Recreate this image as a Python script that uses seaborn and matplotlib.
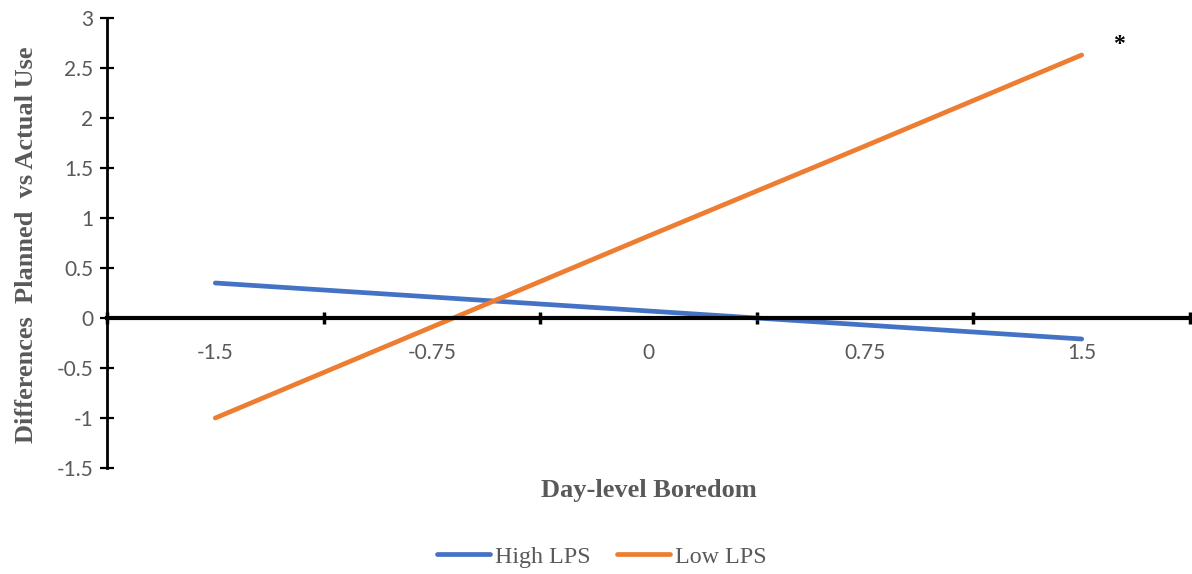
import matplotlib
matplotlib.use("Agg")
import matplotlib.pyplot as plt
import seaborn as sns
import pandas as pd
from matplotlib.ticker import FuncFormatter

# Simple slopes: day-level boredom by LPS group
boredom_levels = ["-1.5", "-0.75", "0", "0.75", "1.5"]
high_lps = [0.35, 0.21, 0.07, -0.07, -0.21]
low_lps = [-1.00, -0.09, 0.82, 1.72, 2.63]
series_names = ["High LPS", "Low LPS"]
colors = ["#4472C4", "#ED7D31"]

sns.set_theme(style="white")
plt.rcParams["axes.unicode_minus"] = False

positions = list(range(len(boredom_levels)))
df = pd.DataFrame({
    "pos": positions * 2,
    "value": high_lps + low_lps,
    "group": [series_names[0]] * len(high_lps) + [series_names[1]] * len(low_lps),
})

fig = plt.figure(figsize=(11.92, 5.74), dpi=100)
ax = fig.add_axes([107 / 1192, 1 - 468 / 574, 1083 / 1192, 450 / 574])

sns.lineplot(data=df, x="pos", y="value", hue="group", palette=colors,
             linewidth=3.4, ax=ax, legend=False, solid_capstyle="round")

ax.set_xlim(-0.5, len(boredom_levels) - 0.5)
ax.set_ylim(-1.5, 3)

tick_gray = "#595959"
sans = ["Lato", "DejaVu Sans"]
serif = ["Liberation Serif", "DejaVu Serif"]

# Spines: left axis plus a horizontal axis through zero
for side in ["top", "right"]:
    ax.spines[side].set_visible(False)
ax.spines["left"].set_color("black")
ax.spines["left"].set_linewidth(2)
ax.spines["bottom"].set_position(("data", 0))
ax.spines["bottom"].set_color("black")
ax.spines["bottom"].set_linewidth(3)

# y ticks
yticks = [-1.5, -1, -0.5, 0, 0.5, 1, 1.5, 2, 2.5, 3]
ax.set_yticks(yticks)
ax.yaxis.set_major_formatter(FuncFormatter(lambda v, p: f"{v:g}"))
ax.tick_params(axis="y", direction="inout", length=10, width=1.6, color="black",
               labelsize=15, labelcolor=tick_gray, pad=5, left=True)
for lab in ax.get_yticklabels():
    lab.set_family(sans)

# x ticks: boundary marks on the zero line, labels at category centres
bounds = [p - 0.5 for p in positions] + [positions[-1] + 0.5]
ax.set_xticks(bounds)
ax.set_xticklabels([""] * len(bounds))
ax.tick_params(axis="x", which="major", direction="inout", length=9, width=2.5,
               color="black", bottom=True)
ax.set_xticks(positions, minor=True)
ax.set_xticklabels(boredom_levels, minor=True)
ax.tick_params(axis="x", which="minor", length=0, pad=18, labelsize=15,
               labelcolor=tick_gray, bottom=True)
for lab in ax.get_xticklabels(minor=True):
    lab.set_family(sans)

ax.set_xlabel("Day-level Boredom", fontsize=19, fontweight="bold",
              color=tick_gray, family=serif)
ax.xaxis.set_label_coords(0.5, -0.025)
ax.set_ylabel("Differences  Planned  vs Actual Use", fontsize=19,
              fontweight="bold", color=tick_gray, family=serif)
ax.yaxis.set_label_coords(-0.064, 0.4956)

# significance marker for the Low LPS slope
ax.text(4.17, 2.73, "*", fontsize=17, fontweight="bold", color="black",
        ha="center", va="center", family=serif)

handles = [plt.Line2D([], [], color=c, linewidth=3.4, solid_capstyle="round")
           for c in colors]
leg = fig.legend(handles, series_names, loc="center", bbox_to_anchor=(0.505, 0.03),
                 ncol=2, frameon=False, handlelength=2.2, handletextpad=0.2,
                 columnspacing=1.1, prop={"family": serif, "size": 17.3})
for t in leg.get_texts():
    t.set_color(tick_gray)

fig.savefig("out.png", dpi=100)
